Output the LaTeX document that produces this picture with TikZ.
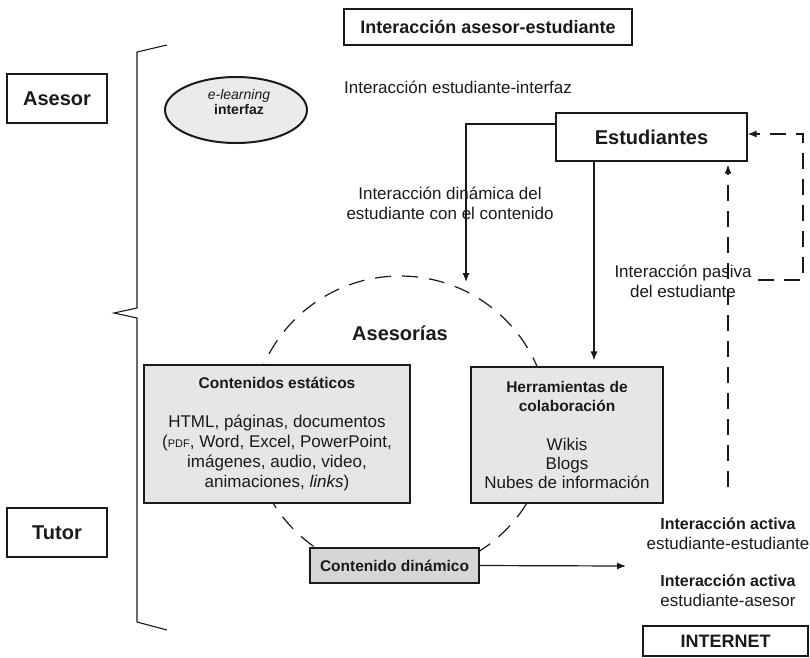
\documentclass[tikz,border=0pt]{standalone}
\usepackage{fontspec}
\setmainfont{Liberation Sans}
\usetikzlibrary{arrows.meta,shapes.geometric}
\definecolor{boxgray}{HTML}{E6E6E6}
\definecolor{darkgray}{HTML}{D6D6D6}
\definecolor{ovalgray}{HTML}{EBEBEB}
\definecolor{ink}{HTML}{1A1A1A}
\newcommand\fsz[2]{\fontsize{#1}{#2}\selectfont}

\begin{document}
\begin{tikzpicture}[x=1pt,y=-1pt,
  box/.style={draw=ink, line width=1.2pt, inner sep=0pt, align=center, text=ink},
  graybox/.style={box, fill=boxgray},
  rolebox/.style={box, minimum width=100pt, minimum height=49pt, font=\bfseries\fsz{20}{24}},
  lbl/.style={inner sep=0pt, align=center, text=ink, font=\fsz{17}{20}},
  conn/.style={draw=ink, line width=1.2pt},
  tip/.style={-{Latex[length=9pt,width=7pt]}},
  dline/.style={conn, dash pattern=on 16pt off 10pt},
]
\useasboundingbox (0,0) rectangle (810,657);

% dashed circle of the advising area
\node (ases) [circle, draw=ink, line width=1.2pt, dash pattern=on 16pt off 11pt,
  minimum size=298pt, inner sep=0pt] at (400,425) {};
\node (asesLbl) [lbl, font=\bfseries\fsz{20}{24}, anchor=base] at (400,340) {Asesorías};

% header and role boxes
\node (title) [box, minimum width=288pt, minimum height=36pt, font=\bfseries\fsz{18}{22}]
  at (488,27) {Interacción asesor-estudiante};
\node (asesor) [rolebox] at (57,98.5) {Asesor};
\node (tutor) [rolebox] at (57,532.5) {Tutor};

% brace grouping the two roles
\draw[conn, line width=1.1pt] (167,45) -- (137,52) -- (137,308) -- (114,313)
  -- (137,318) -- (137,622) -- (167,630);

% interface oval
\node (oval) [ellipse, draw=ink, line width=2pt, fill=ovalgray,
  minimum width=142pt, minimum height=66pt, inner sep=0pt] at (236,110) {};
\node (ovalTxt) [lbl, font=\fsz{14}{15}] at (239,102)
  {\textit{e-learning}\\\textbf{interfaz}};
\node (eiLbl) [lbl, anchor=base west] at (344,93) {Interacción estudiante-interfaz};

% students
\node (estud) [box, minimum width=191pt, minimum height=48pt, font=\bfseries\fsz{20}{24}]
  at (651.5,137) {Estudiantes};

% content boxes
\node (estat) [graybox, minimum width=266pt, minimum height=138pt, font=\fsz{17}{20}]
  at (277,434) {{\bfseries\fsz{15.5}{20}Contenidos estáticos}\\[19pt]
  HTML, páginas, documentos\\
  ({\fsz{11}{20}PDF}, Word, Excel, PowerPoint,\\
  imágenes, audio, video,\\
  animaciones, \textit{links})};
\node (herr) [graybox, minimum width=192pt, minimum height=136pt, font=\fsz{17}{19}]
  at (567,435) {{\bfseries\fsz{15.5}{19}Herramientas de}\\
  {\bfseries\fsz{15.5}{19}colaboración}\\[20pt]
  Wikis\\ Blogs\\ Nubes de información};
\node (condin) [box, fill=darkgray, minimum width=169pt, minimum height=35pt,
  font=\bfseries\fsz{15.5}{19}] at (394.5,565.5) {Contenido dinámico};

% labels of the interactions
\node (dinLbl) [lbl] at (450,203) {Interacción dinámica del\\estudiante con el contenido};
\node (pasLbl) [lbl] at (683,281.5) {Interacción pasiva\\del estudiante};
\node (actA) [lbl] at (728,533.5) {{\bfseries\fsz{16}{19}Interacción activa}\\estudiante-estudiante};
\node (actB) [lbl] at (728,590.5) {{\bfseries\fsz{16}{19}Interacción activa}\\estudiante-asesor};
\node (internet) [box, minimum width=165pt, minimum height=30pt, font=\bfseries\fsz{18}{22}]
  at (725.5,641) {INTERNET};

% connector end points
\coordinate (dinTip) at (466,282);
\coordinate (colX) at (594,0);
\coordinate (pasFoot) at (728,487);
\coordinate (loopEnd) at (758,280);
\coordinate (loopCorner) at (803,280);
\coordinate (actTip) at (626,566);

% solid connectors
\draw[conn, tip] ([yshift=13pt]estud.west) -| (dinTip);
\draw[conn, tip, shorten >=6pt] (estud.south -| colX) -- (herr.north -| colX);
\draw[conn, tip] (condin.east) -- (actTip);

% dashed connectors
\draw[dline, tip, shorten >=3pt] (pasFoot) -- (estud.south -| pasFoot);
\draw[dline, tip] (loopEnd) -- (loopCorner) |- ([yshift=3pt]estud.east);
\end{tikzpicture}
\end{document}
